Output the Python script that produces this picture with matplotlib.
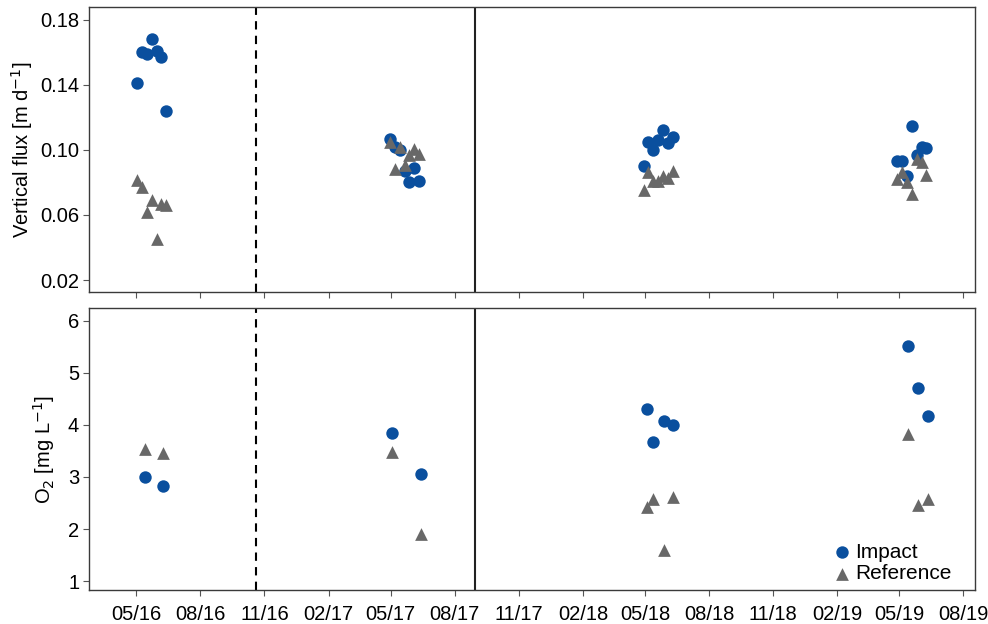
import matplotlib
matplotlib.use("Agg")
import matplotlib.pyplot as plt
import matplotlib.dates as mdates
import numpy as np
import pandas as pd

plt.rcParams['font.family'] = ['Liberation Sans', 'DejaVu Sans']

# Vertical flux [m d-1]
flux_dates = pd.to_datetime([
    "2016-05-02", "2016-05-09", "2016-05-16", "2016-05-23", "2016-05-30", "2016-06-06", "2016-06-13",
    "2017-04-30", "2017-05-07", "2017-05-14", "2017-05-21", "2017-05-28", "2017-06-04", "2017-06-11",
    "2018-04-29", "2018-05-06", "2018-05-13", "2018-05-20", "2018-05-27", "2018-06-03", "2018-06-10",
    "2019-04-28", "2019-05-05", "2019-05-12", "2019-05-19", "2019-05-26", "2019-06-02", "2019-06-09",
])
flux_impact = [
    0.141, 0.160, 0.159, 0.168, 0.161, 0.157, 0.124,
    0.107, 0.102, 0.100, 0.087, 0.080, 0.089, 0.081,
    0.090, 0.105, 0.100, 0.106, 0.112, 0.104, 0.108,
    0.093, 0.093, 0.084, 0.115, 0.097, 0.102, 0.101,
]
flux_reference = [
    0.0815, 0.077, 0.062, 0.069, 0.045, 0.067, 0.066,
    0.105, 0.088, 0.1015, 0.091, 0.0966, 0.1003, 0.0978,
    0.0754, 0.0865, 0.081, 0.081, 0.0838, 0.0828, 0.087,
    0.0823, 0.0864, 0.0802, 0.073, 0.0945, 0.0925, 0.0846,
]

# Dissolved oxygen [mg L-1]
o2_dates = pd.to_datetime([
    "2016-05-13", "2016-06-08",
    "2017-05-03", "2017-06-13",
    "2018-05-04", "2018-05-13", "2018-05-28", "2018-06-11",
    "2019-05-13", "2019-05-28", "2019-06-11",
])
o2_impact = [3.00, 2.82, 3.84, 3.05, 4.30, 3.67, 4.08, 4.00, 5.52, 4.70, 4.17]
o2_reference = [3.54, 3.47, 3.48, 1.91, 2.42, 2.58, 1.60, 2.62, 3.82, 2.46, 2.57]

# Event markers
dashed_date = pd.Timestamp("2016-10-20")
solid_date = pd.Timestamp("2017-08-30")

x_ticks = pd.date_range("2016-05-01", "2019-08-01", freq="3MS")
x_min, x_max = pd.Timestamp("2016-02-23"), pd.Timestamp("2019-08-18")

blue = "#0a4f9e"
grey = "#686868"
frame = "#3a3a3a"

fig = plt.figure(figsize=(9.88, 6.24), dpi=100)
ax1 = fig.add_axes([0.090, 0.532, 0.897, 0.457])
ax2 = fig.add_axes([0.090, 0.0545, 0.897, 0.4515])

def style(ax):
    for s in ax.spines.values():
        s.set_color(frame)
        s.set_linewidth(1.0)
    ax.tick_params(axis="both", direction="out", length=4, width=0.8,
                   color="#555555", labelsize=14.5, labelcolor="black", pad=3)
    ax.set_xlim(x_min, x_max)
    ax.set_xticks(x_ticks)
    ax.xaxis.set_major_formatter(mdates.DateFormatter("%m/%y"))
    ax.axvline(dashed_date, color="black", linestyle=(0, (4, 3)), linewidth=1.5, zorder=1)
    ax.axvline(solid_date, color="#222222", linestyle="-", linewidth=1.5, zorder=1)

ms = 80
ax1.scatter(flux_dates, flux_impact, s=ms, marker="o", color=blue, linewidths=0, zorder=3)
ax1.scatter(flux_dates, flux_reference, s=ms * 1.05, marker="^", color=grey, linewidths=0, zorder=4)
style(ax1)
ax1.set_ylim(0.0126, 0.188)
ax1.set_yticks([0.02, 0.06, 0.10, 0.14, 0.18])
ax1.set_yticklabels([f"{v:.2f}" for v in [0.02, 0.06, 0.10, 0.14, 0.18]])
ax1.tick_params(axis="x", labelbottom=False)
ax1.set_ylabel("Vertical flux [m d$^{-1}$]", fontsize=14.5, labelpad=4)

ax2.scatter(o2_dates, o2_impact, s=ms, marker="o", color=blue, linewidths=0, zorder=3, label="Impact")
ax2.scatter(o2_dates, o2_reference, s=ms * 1.05, marker="^", color=grey, linewidths=0, zorder=4, label="Reference")
style(ax2)
ax2.set_ylim(0.83, 6.24)
ax2.set_yticks([1, 2, 3, 4, 5, 6])
ax2.set_ylabel("O$_2$ [mg L$^{-1}$]", fontsize=14.5, labelpad=8)
ax2.tick_params(axis="x", pad=7)

ax2.legend(loc="lower right", bbox_to_anchor=(0.978, 0.01), frameon=False, fontsize=15,
           handletextpad=0.1, labelspacing=0.1, borderaxespad=0.0, handlelength=1.1,
           borderpad=0.2)

fig.savefig("out.png", dpi=100)
